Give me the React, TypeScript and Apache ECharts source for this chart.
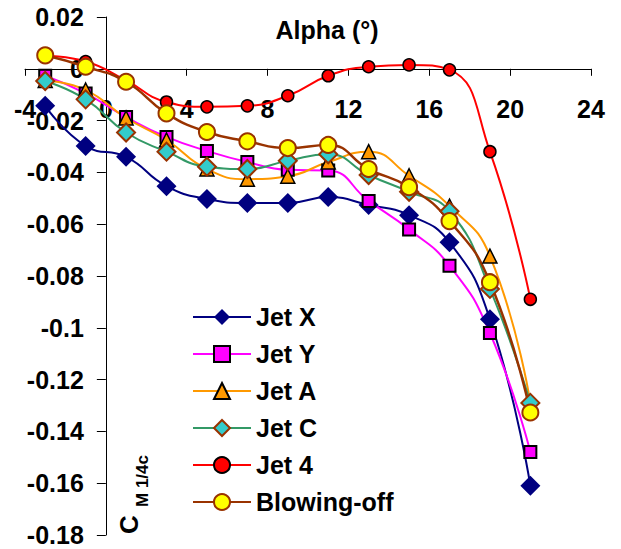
import React, { useEffect, useRef } from 'react';
import * as echarts from 'echarts';

const alpha = [-3, -1, 1, 3, 5, 7, 9, 11, 13, 15, 17, 19, 21];
const jetX = [-0.0143, -0.0298, -0.034, -0.0453, -0.0503, -0.0518, -0.0518, -0.0495, -0.0526, -0.0565, -0.067, -0.0967, -0.161];
const jetY = [-0.0027, -0.0095, -0.0186, -0.0263, -0.0317, -0.036, -0.039, -0.0393, -0.051, -0.062, -0.076, -0.102, -0.148];
const jetA = [-0.0045, -0.0082, -0.019, -0.0275, -0.0387, -0.0426, -0.0415, -0.036, -0.032, -0.0413, -0.053, -0.0723, -0.129];
const jetC = [-0.0047, -0.0118, -0.0246, -0.032, -0.0378, -0.0387, -0.0355, -0.033, -0.041, -0.0475, -0.055, -0.085, -0.129];
const jet4 = [0.005, 0.0028, -0.0045, -0.0128, -0.0147, -0.0143, -0.0104, -0.0027, 0.0008, 0.0015, -0.0004, -0.032, -0.089];
const blowOff = [0.0052, 0.0008, -0.005, -0.0172, -0.0244, -0.028, -0.0306, -0.0294, -0.0387, -0.0457, -0.0588, -0.0824, -0.1327];

const seriesNames = ['Jet X', 'Jet Y', 'Jet A', 'Jet C', 'Jet 4', 'Blowing-off'];
const xTitle = 'Alpha (°)';

const FONT = '"Liberation Sans", Arial, sans-serif';
const X_MIN = -4;
const X_MAX = 24;
const Y_MIN = -0.18;
const Y_MAX = 0.02;
const GRID_LEFT = 25;
const GRID_RIGHT = 30;
const GRID_TOP = 17;
const GRID_BOTTOM = 14;
const W = 621;
const H = 549;

function mk(name: string, values: number[], line: string, symbol: string, size: number, fill: string, border: string, borderW: number, lw = 2) {
  return {
    name,
    type: 'line',
    data: alpha.map((a, i) => [a, values[i]]),
    smooth: 0.5,
    symbol,
    symbolSize: size,
    showAllSymbol: true,
    lineStyle: { color: line, width: lw },
    itemStyle: { color: fill, borderColor: border, borderWidth: borderW },
    emphasis: { disabled: true },
  };
}

export default function App() {
  const ref = useRef<HTMLDivElement>(null);
  useEffect(() => {
    if (!ref.current) return;
    const chart = echarts.init(ref.current, null, { renderer: 'svg' });
    const gridW = W - GRID_LEFT - GRID_RIGHT;
    const gridH = H - GRID_TOP - GRID_BOTTOM;
    const yAxisOffset = -((0 - X_MIN) / (X_MAX - X_MIN)) * gridW;
    const xAxisOffset = -((0 - Y_MIN) / (Y_MAX - Y_MIN)) * gridH;
    chart.setOption({
      animation: false,
      backgroundColor: '#fff',
      grid: { left: GRID_LEFT, right: GRID_RIGHT, top: GRID_TOP, bottom: GRID_BOTTOM, containLabel: false, outerBoundsMode: 'none' },
      xAxis: {
        type: 'value',
        min: X_MIN,
        max: X_MAX,
        interval: 4,
        position: 'bottom',
        offset: xAxisOffset,
        axisLine: { onZero: false, lineStyle: { color: '#000', width: 1 } },
        axisTick: { show: true, length: 7, lineStyle: { color: '#000' } },
        axisLabel: {
          color: '#000', fontSize: 25, fontWeight: 'bold', fontFamily: FONT, margin: 28,
          showMinLabel: true, showMaxLabel: true,
        },
        splitLine: { show: false },
      },
      yAxis: {
        type: 'value',
        min: Y_MIN,
        max: Y_MAX,
        interval: 0.02,
        position: 'left',
        offset: yAxisOffset,
        axisLine: { onZero: false, lineStyle: { color: '#000', width: 1 } },
        axisTick: { show: true, length: 9, lineStyle: { color: '#000' } },
        axisLabel: {
          color: '#000', fontSize: 25, fontWeight: 'bold', fontFamily: FONT, margin: 22,
          formatter: (v: number) => String(Math.round(v * 100) / 100),
          showMinLabel: true, showMaxLabel: true,
        },
        splitLine: { show: false },
      },
      legend: {
        orient: 'vertical',
        left: 192,
        top: 304,
        padding: 0,
        itemWidth: 58,
        itemHeight: 20,
        itemGap: 11,
        selectedMode: false,
        data: seriesNames,
        textStyle: { fontSize: 25, fontWeight: 'bold', color: '#000', fontFamily: FONT, lineHeight: 26 },
      },
      graphic: [
        {
          type: 'text', x: 327, y: 30,
          style: { text: xTitle, fontSize: 25, fontWeight: 'bold', fontFamily: FONT, fill: '#000', align: 'center', verticalAlign: 'middle' },
        },
        {
          type: 'text', x: 129, y: 534, rotation: Math.PI / 2,
          style: { text: 'C', fontSize: 26, fontWeight: 'bold', fontFamily: FONT, fill: '#000', align: 'left', verticalAlign: 'middle' },
        },
        {
          type: 'text', x: 142, y: 507, rotation: Math.PI / 2,
          style: { text: 'M 1/4c', fontSize: 17, fontWeight: 'bold', fontFamily: FONT, fill: '#000', align: 'left', verticalAlign: 'middle' },
        },
      ],
      series: [
        mk(seriesNames[0], jetX, '#000080', 'diamond', 20, '#000080', '#000080', 0),
        mk(seriesNames[1], jetY, '#FF00FF', 'rect', 12, '#FF00FF', '#000', 2),
        mk(seriesNames[2], jetA, '#FF9900', 'triangle', 14, '#FF9900', '#000', 1.5),
        mk(seriesNames[3], jetC, '#339966', 'diamond', 18, '#33CCCC', '#993300', 2),
        mk(seriesNames[4], jet4, '#FF0000', 'circle', 12, '#FF0000', '#000', 1.5),
        mk(seriesNames[5], blowOff, '#993300', 'circle', 16, '#FFFF00', '#993300', 2, 2.5),
      ],
    });
    return () => chart.dispose();
  }, []);
  return <div ref={ref} style={{ position: 'fixed', left: 0, top: 0, width: W, height: H }} />;
}
